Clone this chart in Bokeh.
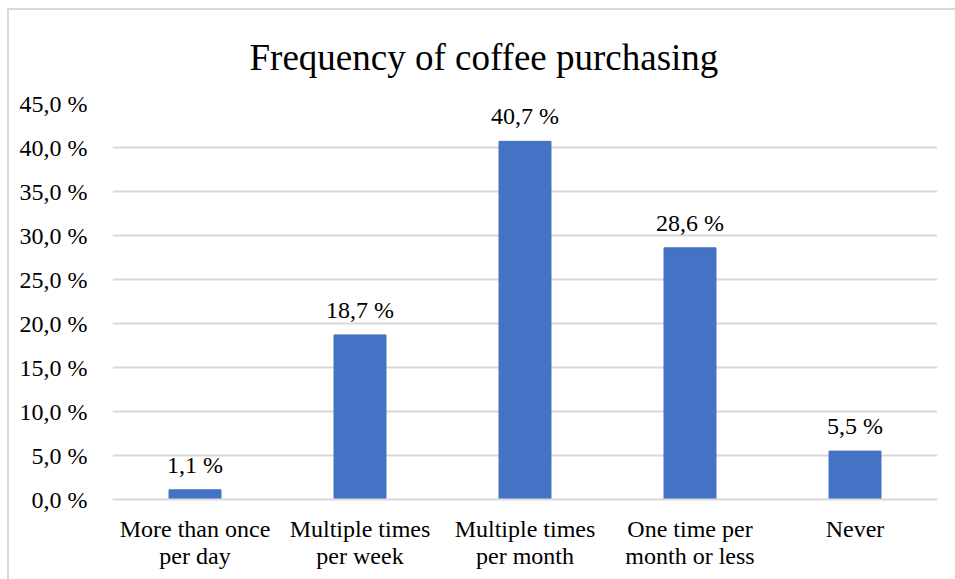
from bokeh.plotting import figure
from bokeh.models import ColumnDataSource, FixedTicker, LabelSet
from bokeh.core.properties import value
from bokeh.embed import file_html
from bokeh.resources import INLINE

categories = ["More than once\nper day", "Multiple times\nper week", "Multiple times\nper month",
              "One time per\nmonth or less", "Never"]
values = [1.1, 18.7, 40.7, 28.6, 5.5]
y_ticks = [0, 5, 10, 15, 20, 25, 30, 35, 40, 45]
y_tick_labels = ["0,0 %", "5,0 %", "10,0 %", "15,0 %", "20,0 %", "25,0 %", "30,0 %", "35,0 %", "40,0 %", "45,0 %"]
title_text = "Frequency of coffee purchasing"

FONT = "Liberation Serif"

labels = [("%.1f" % v).replace(".", ",") + " %" for v in values]
src = ColumnDataSource(dict(cat=categories, val=values, lab=labels))

p = figure(x_range=categories, y_range=(0, 45), width=948, height=571,
           output_backend="svg", toolbar_location=None, title=title_text,
           min_border_left=103, min_border_right=20, min_border_top=93, min_border_bottom=82)
p.margin = (8, 0, 0, 7)
p.styles = {"border-top": "2px solid #d9d9d9", "border-left": "2px solid #d9d9d9"}
p.outline_line_color = None
p.background_fill_color = "white"
p.border_fill_color = "white"

p.vbar(x="cat", top="val", width=0.315, source=src, fill_color="#4472C4", line_color="#4472C4")

ls = LabelSet(x="cat", y="val", text="lab", source=src, text_align="center",
              text_baseline="alphabetic", y_offset=17, text_font=value(FONT),
              text_font_size="24px", text_color="black")
p.add_layout(ls)

p.yaxis.ticker = FixedTicker(ticks=y_ticks)
p.yaxis.major_label_overrides = {t: l for t, l in zip(y_ticks, y_tick_labels)}
p.yaxis.axis_line_color = None
p.yaxis.major_tick_line_color = None
p.yaxis.minor_tick_line_color = None
p.yaxis.major_label_standoff = 19
p.yaxis.major_label_text_font = FONT
p.yaxis.major_label_text_font_size = "24px"
p.yaxis.major_label_text_color = "black"

p.xaxis.axis_line_color = "#d9d9d9"
p.xaxis.axis_line_width = 2
p.xaxis.major_tick_line_color = None
p.xaxis.minor_tick_line_color = None
p.xaxis.major_label_standoff = 10
p.xaxis.major_label_text_font = FONT
p.xaxis.major_label_text_font_size = "24px"
p.xaxis.major_label_text_line_height = 1.07
p.xaxis.major_label_text_color = "black"

p.xgrid.grid_line_color = None
p.ygrid.grid_line_color = "#d9d9d9"
p.ygrid.grid_line_width = 2

p.title.text_font = FONT
p.title.text_font_size = "37px"
p.title.text_font_style = "normal"
p.title.text_color = "black"
p.title.align = "left"
p.title.offset = 137
p.title.standoff = 48
p.title.vertical_align = "top"

open("out.html", "w").write(file_html(p, INLINE))
